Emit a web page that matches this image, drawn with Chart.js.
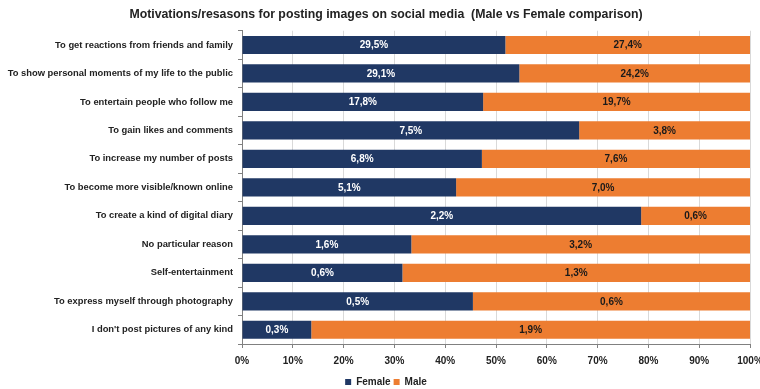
<!DOCTYPE html>
<html lang="en">
<head>
  <meta charset="UTF-8">
  <title>Motivations for posting images on social media</title>
  <script src="https://cdn.jsdelivr.net/npm/chart.js"></script>
  <style>
    body { margin: 0; background: #fff; }
    #wrap { width: 760px; height: 389px; }
  </style>
</head>
<body>
  <div id="wrap">
    <canvas id="myChart" width="760" height="389"></canvas>
  </div>

  <script>
    // categories, top to bottom
    const reasons = [
      'To get reactions from friends and family',
      'To show personal moments of my life to the public',
      'To entertain people who follow me',
      'To gain likes and comments',
      'To increase my number of posts',
      'To become more visible/known online',
      'To create a kind of digital diary',
      'No particular reason',
      'Self-entertainment',
      'To express myself through photography',
      "I don't post pictures of any kind"
    ];
    // share of respondents (%) as printed on the bars
    const female = [29.5, 29.1, 17.8, 7.5, 6.8, 5.1, 2.2, 1.6, 0.6, 0.5, 0.3];
    const male   = [27.4, 24.2, 19.7, 3.8, 7.6, 7.0, 0.6, 3.2, 1.3, 0.6, 1.9];
    const xTicks = [0, 10, 20, 30, 40, 50, 60, 70, 80, 90, 100];

    // 100% stacked: each bar is normalised to the row total
    const femaleShare = female.map((f, i) => f / (f + male[i]) * 100);
    const maleShare = male.map((m, i) => m / (female[i] + m) * 100);

    const FONT = '"Liberation Sans", Arial, sans-serif';
    const fmt = v => v.toFixed(1).replace('.', ',') + '%';

    // draws the raw value in the middle of each segment
    const barLabels = {
      id: 'barLabels',
      afterLayout(chart) {
        // let the long category labels use the left padding too
        chart.scales.y.left = 0;
      },
      afterDatasetsDraw(chart) {
        const ctx = chart.ctx;
        ctx.save();
        ctx.font = 'bold 10px ' + FONT;
        ctx.textAlign = 'center';
        ctx.textBaseline = 'middle';
        chart.data.datasets.forEach((ds, di) => {
          const meta = chart.getDatasetMeta(di);
          ctx.fillStyle = di === 0 ? '#ffffff' : '#1a1a1a';
          meta.data.forEach((bar, i) => {
            const p = bar.getCenterPoint();
            ctx.fillText(fmt(ds.raw[i]), p.x, p.y + 0.5);
          });
        });
        ctx.restore();
      }
    };

    const ctx = document.getElementById('myChart').getContext('2d');
    new Chart(ctx, {
      type: 'bar',
      data: {
        labels: reasons,
        datasets: [
          {
            label: 'Female',
            data: femaleShare,
            raw: female,
            backgroundColor: '#203864',
            borderWidth: 0,
            barPercentage: 0.64,
            categoryPercentage: 1
          },
          {
            label: 'Male',
            data: maleShare,
            raw: male,
            backgroundColor: '#ed7d31',
            borderWidth: 0,
            barPercentage: 0.64,
            categoryPercentage: 1
          }
        ]
      },
      options: {
        indexAxis: 'y',
        responsive: false,
        animation: false,
        layout: { padding: { left: 22, right: 10, top: 0, bottom: -8 } },
        scales: {
          x: {
            stacked: true,
            min: 0,
            max: 100,
            afterBuildTicks(axis) {
              axis.ticks = xTicks.map(v => ({ value: v }));
            },
            afterFit(axis) {
              axis.paddingRight = 0;
              axis.paddingLeft = 0;
            },
            ticks: {
              callback: v => v + '%',
              color: '#222',
              font: { family: FONT, size: 10, weight: 'bold' },
              padding: 7,
              maxRotation: 0
            },
            grid: { color: '#d9d9d9', tickLength: 4, tickColor: '#808080' },
            border: { color: '#808080' }
          },
          y: {
            stacked: true,
            afterFit(axis) { axis.width = 220; },
            ticks: {
              color: '#222',
              font: { family: FONT, size: 9.4, weight: 'bold' },
              padding: 5
            },
            grid: { drawOnChartArea: false, tickLength: 4, color: '#808080', offset: true },
            border: { color: '#808080' }
          }
        },
        plugins: {
          title: {
            display: true,
            text: 'Motivations/resasons for posting images on social media  (Male vs Female comparison)',
            color: '#222',
            font: { family: FONT, size: 12.3, weight: 'bold' },
            padding: { top: 7, bottom: 9 }
          },
          legend: {
            position: 'bottom',
            labels: {
              boxWidth: 6,
              boxHeight: 6,
              padding: 3,
              color: '#222',
              font: { family: FONT, size: 10, weight: 'bold' }
            }
          },
          tooltip: { enabled: false }
        }
      },
      plugins: [barLabels]
    });
  </script>
</body>
</html>
